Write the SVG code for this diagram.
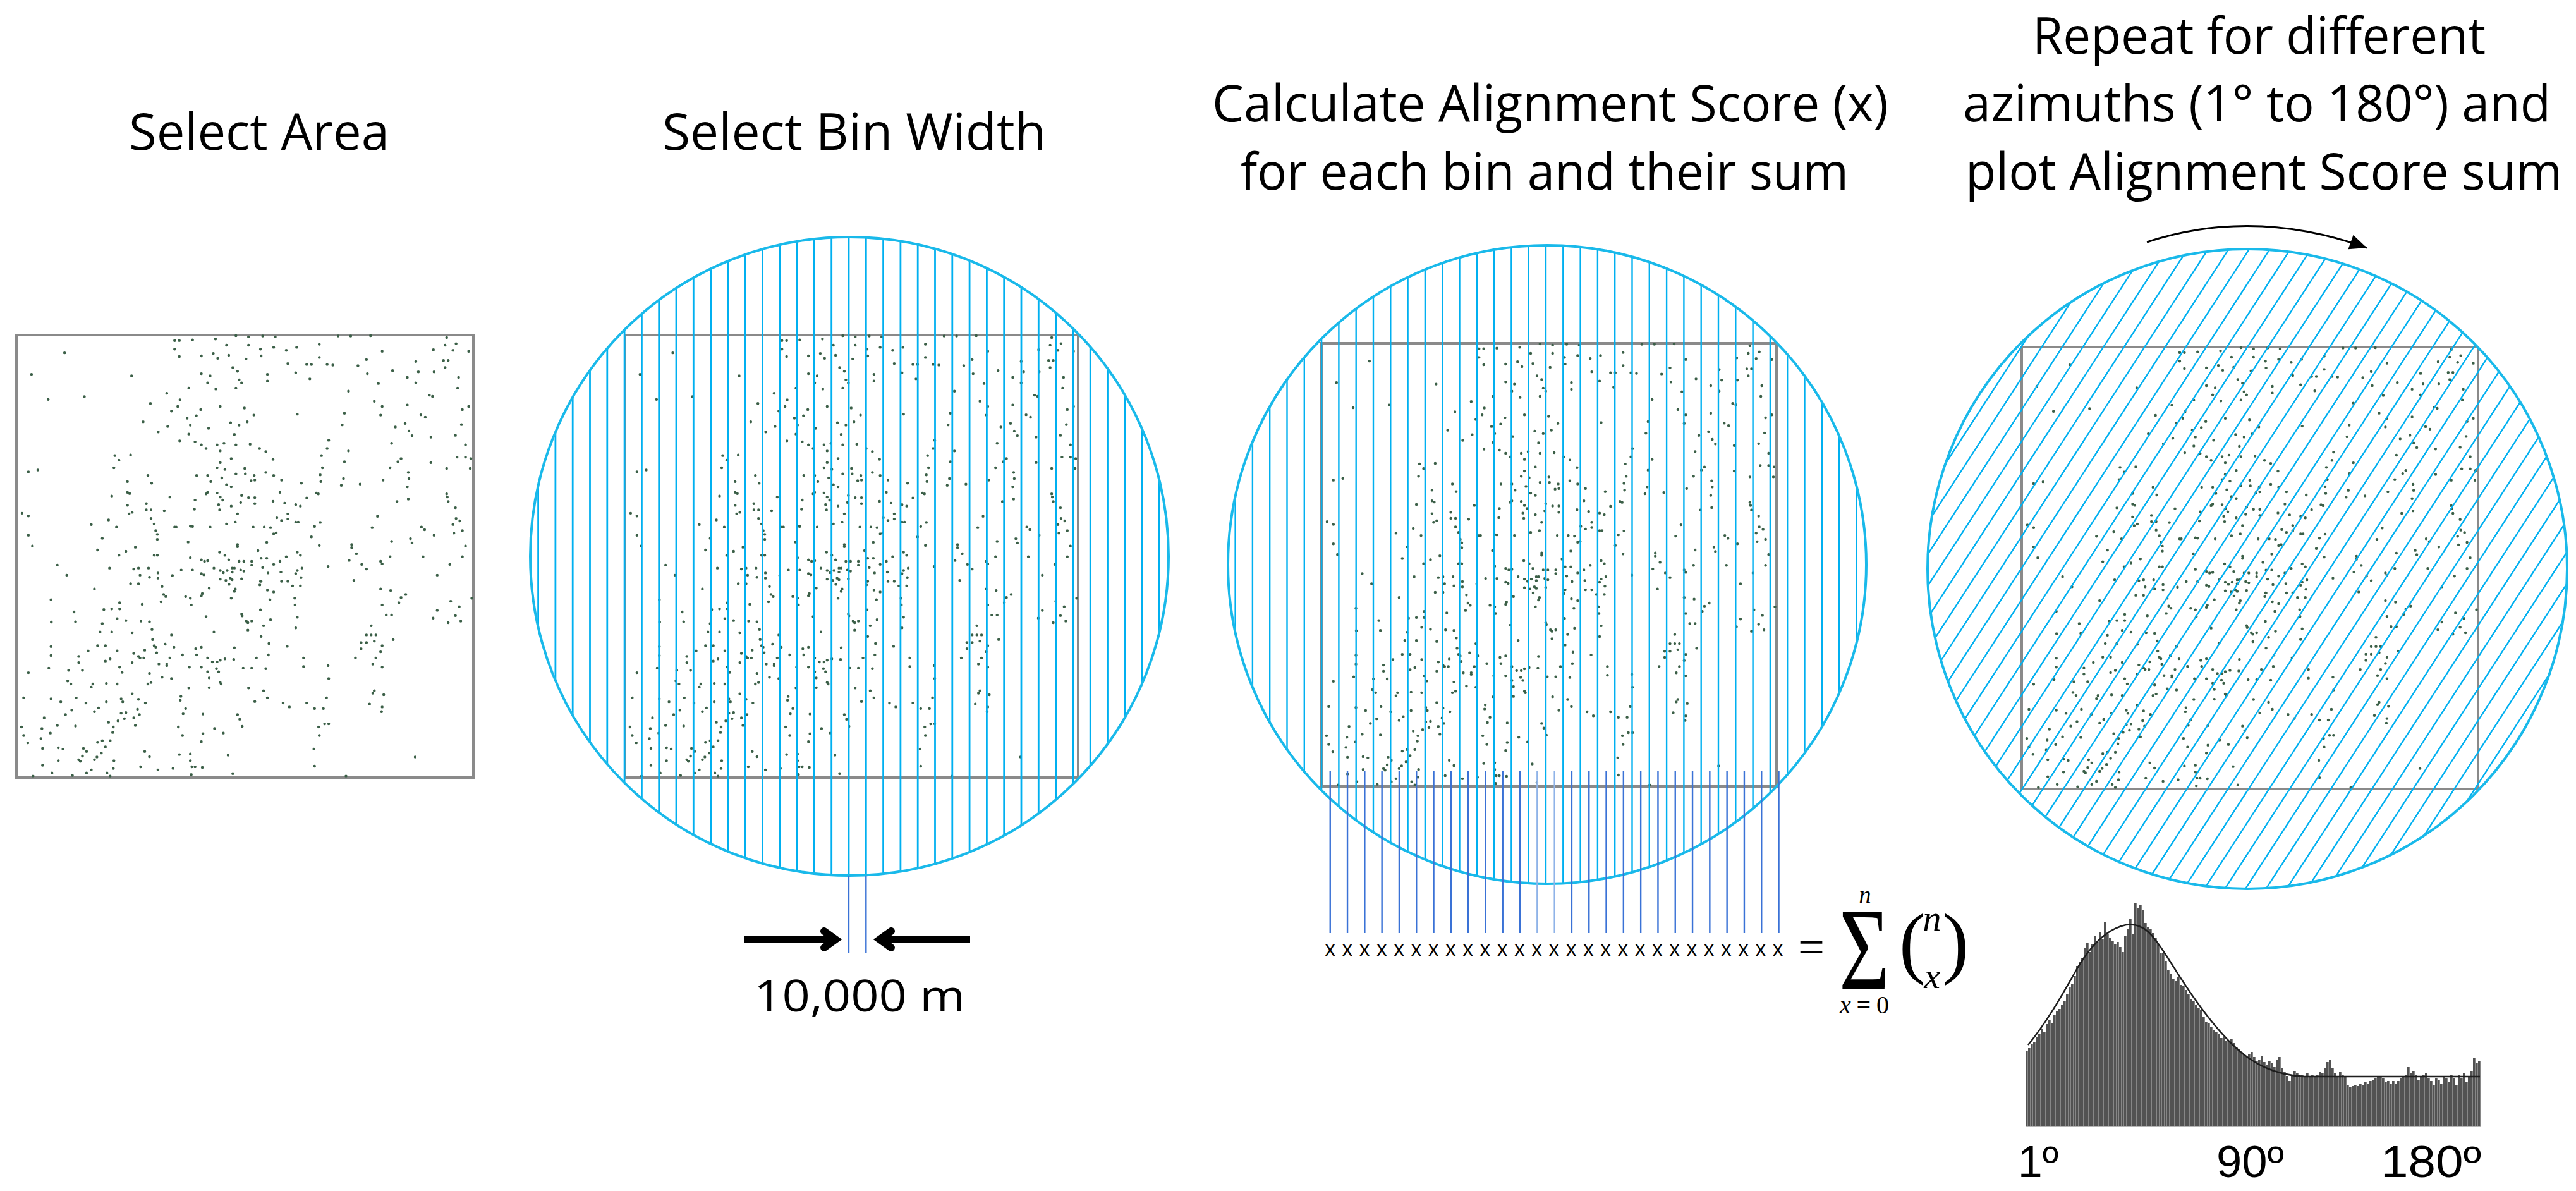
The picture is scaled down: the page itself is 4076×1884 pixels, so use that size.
<svg xmlns="http://www.w3.org/2000/svg" xmlns:xlink="http://www.w3.org/1999/xlink" width="4076" height="1884" viewBox="0 0 4076 1884">
<style>
.title{font-family:"Open Sans","Liberation Sans",sans-serif;font-size:80px;fill:#000}
.lbl{font-family:"Open Sans","Liberation Sans",sans-serif;fill:#000}
.axis{font-family:"Liberation Sans","DejaVu Sans",sans-serif;fill:#000}
.math{font-family:"Liberation Serif","DejaVu Serif",serif;fill:#000}
.frame{fill:none;stroke:#8a8a8a;stroke-width:4}
.pts{fill:none;stroke:#3b5f47;stroke-width:9;stroke-linecap:round}
.ring{fill:none;stroke:#19b9ea;stroke-width:4}
.hatch{fill:none;stroke:#00b0f0;stroke-width:2.8}
.hatch2{fill:none;stroke:#00b0f0;stroke-width:2.4}
.bin{fill:none;stroke:#3a72d6;stroke-width:2.4}
.dim{fill:none;stroke:#000;stroke-width:11}
</style>
<defs>
<marker id="chev" markerUnits="userSpaceOnUse" viewBox="-40 -40 80 80" markerWidth="80" markerHeight="80" refX="0" refY="0" orient="auto">
<path d="M-18,-13 L0,0 L-18,13" fill="none" stroke="#000" stroke-width="12" stroke-linecap="round" stroke-linejoin="miter"/>
</marker>
<marker id="tri" markerUnits="userSpaceOnUse" viewBox="-40 -20 50 40" markerWidth="50" markerHeight="40" refX="0" refY="0" orient="auto">
<path d="M0,0 L-27,-12 L-27,12 Z" fill="#000"/>
</marker>
<pattern id="barsep" patternUnits="userSpaceOnUse" x="3205" y="0" width="4" height="10">
<rect x="3" y="0" width="1" height="10" fill="#b0b0b0"/>
</pattern>
<clipPath id="clip2"><circle cx="1344" cy="880" r="505"/></clipPath>
<clipPath id="clip3"><circle cx="2448" cy="893" r="505"/></clipPath>
<clipPath id="clip4"><circle cx="3556" cy="900" r="506"/></clipPath>
<path id="vlines" d="M-491.4,0V1884M-464.1,0V1884M-436.8,0V1884M-409.5,0V1884M-382.2,0V1884M-354.9,0V1884M-327.6,0V1884M-300.3,0V1884M-273,0V1884M-245.7,0V1884M-218.4,0V1884M-191.1,0V1884M-163.8,0V1884M-136.5,0V1884M-109.2,0V1884M-81.9,0V1884M-54.6,0V1884M-27.3,0V1884M0,0V1884M27.3,0V1884M54.6,0V1884M81.9,0V1884M109.2,0V1884M136.5,0V1884M163.8,0V1884M191.1,0V1884M218.4,0V1884M245.7,0V1884M273,0V1884M300.3,0V1884M327.6,0V1884M354.9,0V1884M382.2,0V1884M409.5,0V1884M436.8,0V1884M464.1,0V1884M491.4,0V1884"/>
<path id="pts" d="M555,80h0M570,80h0M612,78h0M685,75h0M750,64h0M790,68h0M835,65h0M875,68h0M720,95h0M790,95h0M828,108h0M870,102h0M910,112h0M943,102h0M1015,92h0M1075,65h0M1115,65h0M1178,64h0M1215,115h0M1420,70h0M1415,95h0M1450,90h0M1440,112h0M1378,110h0M1490,115h0M555,108h0M570,132h0M640,130h0M678,122h0M692,138h0M727,128h0M782,140h0M830,130h0M205,120h0
M100,190h0M418,195h0M915,155h0M940,185h0M975,158h0M990,158h0M985,205h0M1015,135h0M1040,158h0M1058,160h0M1138,162h0M1165,142h0M1168,188h0M1248,178h0M1322,148h0M1330,182h0M1380,182h0M1410,145h0M1425,145h0M1415,168h0M1458,200h0M1455,235h0M1203,220h0M1108,245h0M850,190h0M850,212h0M755,180h0M740,168h0M760,208h0M768,218h0M750,235h0M660,218h0M640,188h0M668,195h0M686,238h0M600,235h0M530,252h0M1295,200h0M1322,218h0
M153,272h0M268,263h0M478,285h0M572,273h0M565,295h0M545,310h0M638,305h0M624,325h0M595,333h0M605,356h0M700,295h0M777,300h0M807,323h0M786,345h0M760,356h0M733,348h0M663,366h0M600,385h0M503,378h0M533,360h0M455,345h0M571,407h0M945,320h0M1095,317h0M1088,355h0M1190,278h0M1215,295h0M1210,323h0M1295,290h0M1288,350h0M1300,375h0M1310,390h0M1338,322h0M1352,330h0M1365,258h0M1375,262h0M1370,395h0M1470,305h0M1490,295h0M1467,354h0M1448,389h0M1257,362h0M1245,415h0M745,386h0M1108,440h0
M620,410h0M640,420h0M655,432h0M690,420h0M712,415h0M700,440h0M750,420h0M795,418h0M825,432h0M845,442h0M868,467h0M735,465h0M700,478h0M690,495h0M715,500h0M750,515h0M778,497h0M808,520h0M780,515h0M798,537h0M845,510h0M870,520h0M810,535h0M895,535h0M625,520h0M660,520h0M670,540h0M705,528h0M720,550h0M735,557h0M958,545h0M1045,405h0M1040,432h0M1022,455h0M1025,495h0M1018,518h0M1020,540h0M1095,475h0M1092,530h0M1085,552h0M1145,548h0M1218,535h0M1240,495h0M1265,475h0M1275,465h0M1298,510h0M1300,530h0M1295,557h0M1370,478h0M1420,497h0M1453,460h0M1480,460h0M1497,465h0M1495,497h0M1480,420h0M90,508h0M120,502h0M365,455h0M378,470h0M415,453h0M362,495h0M470,520h0M482,545h0M405,540h0M405,575h0M412,579h0
M355,587h0M405,617h0M420,640h0M410,645h0M465,612h0M465,632h0M480,632h0M480,660h0M522,635h0M540,590h0M560,688h0M612,686h0M620,600h0M618,630h0M655,580h0M660,575h0M690,577h0M700,590h0M708,600h0M695,615h0M698,632h0M735,620h0M768,585h0M765,608h0M790,592h0M810,592h0M810,612h0M868,604h0M890,575h0M905,610h0M940,615h0M955,620h0M975,593h0M1005,577h0M1012,580h0M755,645h0M748,672h0M720,678h0M668,688h0M605,685h0M555,688h0M880,658h0M895,667h0M915,662h0M915,645h0M940,672h0M948,672h0M805,688h0M840,688h0M860,690h0M878,707h0M870,710h0M1000,686h0M1018,673h0M70,643h0M90,652h0M90,715h0M103,750h0M290,680h0M345,665h0M370,688h0M490,678h0M495,700h0M500,712h0M500,728h0M325,725h0M1340,688h0M1350,697h0M1380,715h0M1440,680h0M1443,708h0M1470,700h0M1448,625h0M1450,660h0M1462,668h0M1425,605h0M1420,580h0M1422,590h0M1305,726h0M1310,740h0M1262,605h0M1298,597h0M1200,653h0M1183,690h0
M598,737h0M755,745h0M755,752h0M848,738h0M990,720h0M1015,748h0M820,765h0M830,790h0M848,790h0M890,800h0M910,785h0M945,770h0M955,780h0M1118,745h0M1118,755h0M1133,775h0M1110,797h0M1150,810h0M1165,825h0M1210,800h0M1215,808h0M1240,785h0M1245,735h0M1345,785h0M1390,845h0M1430,810h0M1470,785h0M1480,750h0M605,788h0M640,795h0M650,800h0M660,798h0M698,770h0M715,780h0M727,795h0M760,800h0M775,800h0M800,800h0M800,812h0M835,820h0M870,810h0M430,754h0M400,767h0M378,780h0M310,763h0M490,780h0M500,780h0M182,812h0M212,845h0M348,822h0M425,825h0M440,822h0M472,822h0M445,845h0M475,852h0M502,838h0M502,855h0M548,846h0M576,828h0M612,828h0M640,840h0M648,844h0M680,822h0M700,830h0M710,837h0M722,830h0M738,822h0M738,835h0M745,822h0M765,828h0M775,832h0M830,865h0M852,838h0M893,835h0M940,840h0M945,830h0M960,822h0M1043,817h0M1125,862h0
M300,890h0M415,873h0M440,873h0M515,882h0M520,908h0M527,915h0M512,932h0M590,915h0M605,920h0M608,942h0M643,905h0M640,912h0M665,887h0M700,858h0M718,862h0M732,855h0M738,860h0M728,875h0M745,898h0M748,890h0M735,920h0M768,857h0M828,865h0M826,877h0M850,894h0M870,900h0M895,865h0M915,865h0M930,880h0M955,880h0M937,920h0M938,942h0M945,982h0M940,1017h0M957,853h0M162,925h0M235,965h0M240,997h0M163,998h0M330,957h0M355,955h0M380,955h0M380,935h0M372,987h0M400,993h0M452,940h0M448,995h0M475,997h0M483,1022h0M325,1003h0M318,1030h0M355,1030h0M420,1033h0M545,1040h0M655,980h0M680,1030h0M768,972h0M770,978h0M783,995h0M788,1000h0M800,995h0M788,1024h0M828,958h0M838,1010h0M860,990h0M858,925h0M830,1045h0M1210,890h0M1242,895h0M1215,942h0M1228,975h0M1245,975h0M1275,918h0M1268,935h0M1290,908h0M1433,930h0M1460,948h0M1390,960h0M1377,985h0M1425,1000h0M1448,977h0M1465,995h0M1500,920h0M1195,1040h0M1180,1010h0M1165,1040h0M1250,1055h0
M162,1078h0M162,1107h0M155,1148h0M218,1155h0M262,1155h0M250,1110h0M250,1130h0M280,1092h0M310,1075h0M335,1075h0M335,1125h0M350,1118h0M372,1092h0M380,1145h0M388,1162h0M425,1100h0M420,1130h0M440,1110h0M460,1090h0M457,1115h0M445,1115h0M485,1055h0M490,1075h0M495,1080h0M498,1098h0M505,1135h0M530,1135h0M530,1140h0M525,1070h0M553,1080h0M540,1115h0M475,1165h0M515,1178h0M545,1182h0M580,1105h0M602,1145h0M622,1085h0M640,1080h0M625,1105h0M640,1145h0M660,1115h0M675,1128h0M690,1128h0M700,1122h0M715,1118h0M688,1150h0M695,1160h0M660,1160h0M665,1180h0M745,1082h0M743,1120h0M773,1148h0M800,1148h0M845,1150h0M853,1105h0M855,1068h0M815,1115h0M913,1077h0M965,1115h0M965,1143h0M1043,1140h0M1045,1182h0M1130,1115h0M1148,1065h0M1148,1085h0M1165,1065h0M1180,1040h0M1190,1060h0M1215,1075h0M1210,1095h0M1195,1115h0M1185,1135h0M1215,1145h0M90,1163h0M215,1190h0M225,1200h0M295,1200h0M290,1210h0M338,1198h0M372,1200h0M470,1200h0M480,1195h0M600,1213h0M665,1212h0M700,1195h0M703,1200h0
M790,1213h0M838,1222h0M850,1245h0M810,1257h0M900,1262h0M920,1275h0M975,1262h0M1000,1280h0M1028,1280h0M1038,1245h0M1190,1222h0M1185,1230h0M1220,1235h0M1175,1265h0M1215,1275h0M1213,1290h0M75,1245h0M162,1248h0M193,1258h0M242,1245h0M273,1262h0M313,1278h0M338,1258h0M385,1248h0M390,1258h0M420,1232h0M440,1250h0M437,1282h0M462,1262h0M575,1240h0M573,1253h0M590,1280h0M582,1297h0M645,1298h0M208,1300h0M228,1285h0M385,1295h0M400,1293h0M395,1313h0M375,1320h0M425,1310h0M443,1300h0M430,1335h0M345,1325h0M360,1340h0M358,1358h0M300,1290h0M140,1310h0M133,1345h0M182,1335h0M240,1337h0M68,1340h0M75,1368h0M88,1392h0M130,1378h0M160,1360h0M640,1388h0M645,1362h0M682,1345h0M710,1360h0M567,1340h0M580,1368h0M755,1300h0M762,1315h0M770,1338h0M1013,1340h0M1015,1368h0M1032,1330h0M1045,1330h0M998,1412h0M1000,1468h0M1320,1438h0M310,1390h0M325,1385h0M350,1385h0M335,1405h0M322,1425h0M308,1438h0M300,1447h0
M135,1410h0M185,1408h0M200,1412h0M265,1410h0M262,1435h0M250,1447h0M255,1452h0M275,1420h0M185,1450h0M135,1465h0M165,1490h0M105,1500h0M230,1498h0M275,1490h0M290,1480h0M340,1490h0M350,1500h0M360,1475h0M362,1450h0M460,1420h0M475,1437h0M447,1470h0M502,1480h0M550,1475h0M570,1430h0M605,1428h0M605,1450h0M610,1470h0M620,1470h0M643,1472h0M608,1495h0M725,1432h0M740,1492h0M1100,1500h0"/>
<path id="histshape" d="M3205,1781V1662h4V1658h4V1652h4V1648h4V1640h4V1636h4V1628h4V1632h4V1620h4V1614h4V1618h4V1606h4V1600h4V1596h4V1590h4V1584h4V1572h4V1562h4V1556h4V1544h4V1528h4V1522h4V1516h4V1500h4V1492h4V1506h4V1494h4V1480h4V1490h4V1474h4V1486h4V1458h4V1478h4V1484h4V1488h4V1494h4V1490h4V1498h4V1506h4V1480h4V1470h4V1454h4V1478h4V1428h4V1436h4V1432h4V1440h4V1460h4V1466h4V1470h4V1476h4V1484h4V1494h4V1508h4V1508h4V1520h4V1534h4V1540h4V1548h4V1552h4V1546h4V1558h4V1560h4V1566h4V1572h4V1580h4V1584h4V1590h4V1594h4V1598h4V1608h4V1616h4V1618h4V1624h4V1630h4V1632h4V1636h4V1642h4V1640h4V1646h4V1648h4V1644h4V1650h4V1656h4V1660h4V1664h4V1668h4V1672h4V1668h4V1664h4V1672h4V1678h4V1676h4V1670h4V1680h4V1684h4V1678h4V1682h4V1688h4V1676h4V1672h4V1690h4V1696h4V1702h4V1710h4V1700h4V1694h4V1698h4V1700h4V1700h4V1702h4V1698h4V1702h4V1700h4V1704h4V1700h4V1696h4V1698h4V1690h4V1680h4V1676h4V1690h4V1698h4V1702h4V1696h4V1700h4V1702h4V1716h4V1720h4V1718h4V1716h4V1718h4V1714h4V1716h4V1712h4V1714h4V1710h4V1708h4V1706h4V1702h4V1702h4V1706h4V1712h4V1710h4V1714h4V1710h4V1714h4V1710h4V1706h4V1702h4V1700h4V1688h4V1698h4V1694h4V1700h4V1708h4V1704h4V1700h4V1698h4V1706h4V1710h4V1716h4V1706h4V1708h4V1714h4V1702h4V1706h4V1712h4V1700h4V1706h4V1716h4V1700h4V1706h4V1698h4V1712h4V1702h4V1694h4V1674h4V1682h4V1678h4V1781Z"/>
</defs>
<rect width="4076" height="1884" fill="#fff"/>

<g id="titles">
<text class="title" x="204" y="237" textLength="412" lengthAdjust="spacingAndGlyphs">Select Area</text>
<text class="title" x="1048" y="237" textLength="607" lengthAdjust="spacingAndGlyphs">Select Bin Width</text>
<text class="title" x="1918" y="192" textLength="1070" lengthAdjust="spacingAndGlyphs">Calculate Alignment Score (x)</text>
<text class="title" x="1963" y="300" textLength="962" lengthAdjust="spacingAndGlyphs">for each bin and their sum</text>
<text class="title" x="3216" y="85" textLength="717" lengthAdjust="spacingAndGlyphs">Repeat for different</text>
<text class="title" x="3106" y="192" textLength="930" lengthAdjust="spacingAndGlyphs">azimuths (1° to 180°) and</text>
<text class="title" x="3110" y="300" textLength="944" lengthAdjust="spacingAndGlyphs">plot Alignment Score sum</text>
</g>

<g id="panel-select-area">
<rect class="frame" x="26" y="530" width="723" height="700"/>
<use href="#pts" class="pts" transform="translate(26,530) scale(0.4976,0.4851) translate(-52,-62)"/>
</g>

<g id="panel-bin-width">
<rect class="frame" x="989" y="530" width="717" height="700"/>
<use href="#pts" class="pts" transform="translate(989,530) scale(0.4935,0.4851) translate(-52,-62)"/>
<g clip-path="url(#clip2)"><use href="#vlines" class="hatch" x="1343"/></g>
<circle class="ring" cx="1344" cy="880" r="505"/>
<path class="bin" d="M1343,1386V1507M1370.3,1386V1507"/>
</g>

<g id="panel-alignment">
<rect class="frame" x="2091" y="543" width="720" height="701"/>
<use href="#pts" class="pts" transform="translate(2091,543) scale(0.4955,0.4858) translate(-52,-62)"/>
<g clip-path="url(#clip3)"><use href="#vlines" class="hatch2" x="2446"/></g>
<circle class="ring" cx="2448" cy="893" r="505"/>
<path class="bin" d="M2104.75,1220V1476M2132.05,1220V1476M2159.35,1220V1476M2186.65,1220V1476M2213.95,1220V1476M2241.25,1220V1476M2268.55,1220V1476M2295.85,1220V1476M2323.15,1220V1476M2350.45,1220V1476M2377.75,1220V1476M2405.05,1220V1476M2486.95,1220V1476M2514.25,1220V1476M2541.55,1220V1476M2568.85,1220V1476M2596.15,1220V1476M2623.45,1220V1476M2650.75,1220V1476M2678.05,1220V1476M2705.35,1220V1476M2732.65,1220V1476M2759.95,1220V1476M2787.25,1220V1476M2814.55,1220V1476"/>
<path class="bin" style="stroke:#8fb3e8" d="M2432.35,1220V1476M2459.65,1220V1476"/>
</g>

<g id="formula">
<text class="lbl" x="2096.3" y="1512" font-size="32" letter-spacing="10.5">xxxxxxxxxxxxxxxxxxxxxxxxxxx</text>
<text class="math" x="2845" y="1524" font-size="76" textLength="42" lengthAdjust="spacingAndGlyphs">=</text>
<text class="math" x="2951" y="1428" font-size="38" font-style="italic" text-anchor="middle">n</text>
<text class="math" x="2910" y="1565" font-size="186" textLength="80" lengthAdjust="spacingAndGlyphs">Σ</text>
<text class="math" x="2950" y="1603" font-size="40" text-anchor="middle" textLength="78"><tspan font-style="italic">x</tspan>=0</text>
<text class="math" x="3005" y="1532" font-size="124">(</text>
<text class="math" x="3074" y="1532" font-size="124">)</text>
<text class="math" x="3057" y="1472" font-size="58" font-style="italic" text-anchor="middle">n</text>
<text class="math" x="3057" y="1563" font-size="58" font-style="italic" text-anchor="middle">x</text>
</g>

<g id="panel-azimuth">
<rect class="frame" x="3199" y="549" width="722" height="699"/>
<use href="#pts" class="pts" transform="translate(3199,549) scale(0.4969,0.4844) translate(-52,-62)"/>
<g clip-path="url(#clip4)"><use href="#vlines" class="hatch2" transform="rotate(33 3556 900) translate(3556 0)"/></g>
<circle class="ring" cx="3556" cy="900" r="506"/>
</g>

<g id="histogram">
<use href="#histshape" fill="#525252"/>
<use href="#histshape" fill="url(#barsep)" opacity="0.55"/>
<path d="M3209,1653 C3240,1615 3262,1575 3285,1535 C3305,1500 3330,1470 3364,1463 C3395,1458 3410,1485 3430,1515 C3455,1555 3490,1610 3530,1650 C3565,1685 3600,1700 3645,1703 L3924,1703" fill="none" stroke="#1e1e1e" stroke-width="2.5"/>
<line x1="3205" y1="1782" x2="3925" y2="1782" stroke="#b5b5b5" stroke-width="2"/>
<text class="axis" x="3193" y="1862" font-size="70" textLength="64" lengthAdjust="spacingAndGlyphs">1º</text>
<text class="axis" x="3507" y="1862" font-size="70" textLength="107" lengthAdjust="spacingAndGlyphs">90º</text>
<text class="axis" x="3767" y="1862" font-size="70" textLength="159" lengthAdjust="spacingAndGlyphs">180º</text>
</g>

<g id="connectors">
<path class="dim" d="M1178,1486H1322" marker-end="url(#chev)"/>
<path class="dim" d="M1535,1486H1392" marker-end="url(#chev)"/>
<path d="M3397,383 Q3565,328 3745,392" fill="none" stroke="#000" stroke-width="3" marker-end="url(#tri)"/>
</g>
<text class="lbl" x="1193" y="1600" font-size="70" textLength="334" lengthAdjust="spacingAndGlyphs">10,000 m</text>
</svg>
